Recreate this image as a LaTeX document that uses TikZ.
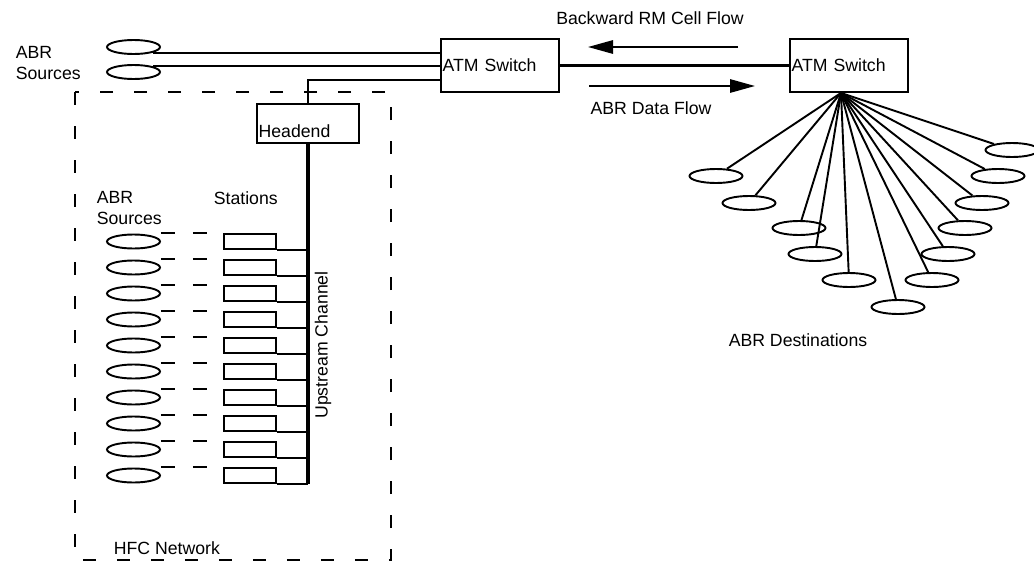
\documentclass[tikz,border=0pt]{standalone}
\usepackage{fontspec}
\setmainfont{Liberation Sans}
\usetikzlibrary{arrows.meta,calc,shapes.geometric}
\tikzset{
  >={Triangle[length=15pt,width=8pt]},
  wire/.style={line width=1.15pt},
  trunk/.style={line width=2.2pt},
  unit/.style={draw,line width=1.15pt,align=left,inner xsep=1pt,
    text width=#1-2pt,minimum width=#1},
  switch/.style={unit=70.8pt,minimum height=31.8pt},
  head/.style={unit=61.2pt,inner ysep=0pt,text height=19.8pt,text depth=3.6pt},
  stn/.style={draw,line width=1.15pt,minimum width=31.2pt,minimum height=9pt,inner sep=0pt},
  term/.style={ellipse,draw,line width=1.15pt,minimum width=31.8pt,minimum height=8.4pt,inner sep=0pt},
  lbl/.style={align=left,font=\fontsize{10.6}{12.6}\selectfont},
  hfc/.style={line width=1.15pt,dash pattern=on 7.8pt off 12.6pt},
  lnk/.style={line width=1.15pt,dash pattern=on 8.4pt off 10.8pt},
}

\begin{document}
\begin{tikzpicture}[x=0.6pt,y=-0.6pt,font=\fontsize{10.6}{12.6}\selectfont]
  \useasboundingbox (0,0) rectangle (1034,564);
  % switches and headend
  \node[switch] (sw1) at (500,65.5) {ATM Switch};
  \node[switch] (sw2) at (849,65.5) {ATM Switch};
  \node[head] (headend) at (308,123.5) {Headend};
  \draw[trunk] (sw1.east) -- (sw2.west);

  % sources outside the HFC network
  \node[term] (srcA) at (133.5,47) {};
  \node[term] (srcB) at (133.5,72) {};
  \node[lbl,anchor=west] (srclbl) at (10,63) {ABR\\Sources};
  \draw[wire] (srcA.south east) -- (srcA.south east -| sw1.west);
  \draw[wire] (srcB.north east) -- (srcB.north east -| sw1.west);
  \draw[wire] (headend.north) |- ($(sw1.south west)+(0,-13)$);

  % flows
  \coordinate (bkS) at (738,47);
  \coordinate (bkE) at (588,47);
  \coordinate (dfS) at (589,86);
  \coordinate (dfE) at (755,86);
  \draw[wire,->] (bkS) -- (bkE);
  \draw[wire,->] (dfS) -- (dfE);
  \node[lbl] (bklbl) at (650,18) {Backward RM Cell Flow};
  \node[lbl] (dflbl) at (651,108) {ABR Data Flow};

  % HFC network
  \draw[hfc] (75,92) rectangle (391,560);
  \node[lbl,anchor=west] (hfclbl) at (108,548) {HFC Network};
  \node[lbl,anchor=west] (inlbl) at (91,208) {ABR\\Sources};
  \node[lbl,anchor=west] (stnlbl) at (208,198) {Stations};
  \foreach \i in {0,...,9}{
    \node[term] (s\i) at (133.5,241.5+26*\i) {};
    \node[stn] (b\i) at (250,241.5+26*\i) {};
    \draw[lnk] (s\i.east |- b\i.north) -- (b\i.north west);
    \draw[wire] (b\i.south east) -- (b\i.south east -| headend.south);
  }
  \draw[trunk] (headend.south) -- (headend.south |- b9.south);
  \node[lbl,rotate=90] (chanlbl) at (323,345) {Upstream Channel};

  % destinations
  \coordinate (fan) at ($(sw2.south)+(-8,0)$);
  \foreach \x/\y [count=\i] in {716/176,749/203,799/228,815/254,849/280,898/307,
      932/280,948/254,965/228,982/203,998/176,1012/150}{
    \node[term] (d\i) at (\x,\y) {};
    \draw[wire] (fan) -- (d\i);
  }
  \node[lbl] (dstlbl) at (798,340) {ABR Destinations};
\end{tikzpicture}
\end{document}
